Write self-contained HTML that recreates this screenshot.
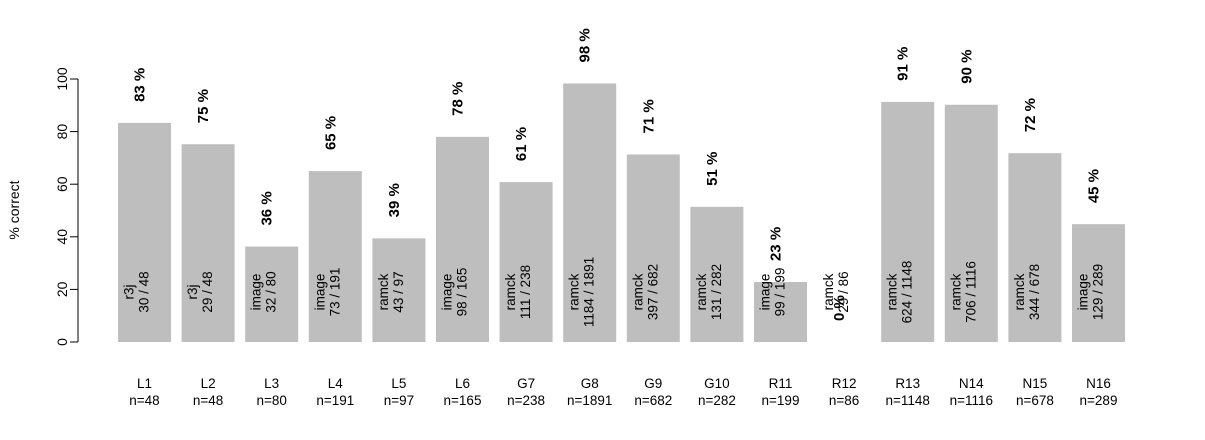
<!DOCTYPE html>
<html><head><meta charset="utf-8"><style>
html,body{margin:0;padding:0;background:#fff;}
svg{display:block;font-family:"Liberation Sans",Arial,sans-serif;}
</style></head><body>
<svg id="chart" width="1205" height="440" viewBox="0 0 1205 440" xmlns="http://www.w3.org/2000/svg">
<g id="yaxis"></g>
<text transform="translate(19,210) rotate(-90)" text-anchor="middle" font-size="14">% correct</text>
<g id="bars"></g>
</svg>
<script>
const categories = ["L1","L2","L3","L4","L5","L6","G7","G8","G9","G10","R11","R12","R13","N14","N15","N16"];
const counts = [48,48,80,191,97,165,238,1891,682,282,199,86,1148,1116,678,289];
const percents = [83.3,75.2,36.3,65,39.4,78,60.8,98.3,71.3,51.4,22.8,0,91.3,90.2,71.8,44.8];
const methods = ["r3j","r3j","image","image","ramck","image","ramck","ramck","ramck","ramck","image","ramck","ramck","ramck","ramck","image"];
const fractions = ["30 / 48","29 / 48","32 / 80","73 / 191","43 / 97","98 / 165","111 / 238","1184 / 1891","397 / 682","131 / 282","99 / 199","29 / 86","624 / 1148","706 / 1116","344 / 678","129 / 289"];
const yTicks = [0,20,40,60,80,100];

const NS="http://www.w3.org/2000/svg";
const y0=342, yScale=(342-79)/100;
const y=v=>y0-v*yScale;
const x=i=>118+i*63.6;
const bw=53;
function mk(tag,attrs,parent,txt){const e=document.createElementNS(NS,tag);for(const k in attrs)e.setAttribute(k,attrs[k]);if(txt!==undefined)e.textContent=txt;parent.appendChild(e);return e;}

const ya=document.getElementById('yaxis');
let l=mk('line',{x1:78,x2:78,y1:y(0),y2:y(100),stroke:'#000','stroke-width':1},ya);


yTicks.forEach(t=>{
  let tk=mk('line',{x1:70,x2:78,y1:y(t),y2:y(t),stroke:'#000'},ya);
  
  
  let tl=mk('text',{transform:`translate(67,${y(t)}) rotate(-90)`,'text-anchor':'middle','font-size':14},ya,String(t));
  
  
});

const bg=document.getElementById('bars');
categories.forEach((c,i)=>{
  const left=x(i), cx=left+bw/2, top=y(percents[i]);
  const r=mk('rect',{x:left,y:top,width:bw,height:y0-top,fill:'#bebebe'},bg);
  
  
  const pt=mk('text',{transform:`translate(${cx},${top-21}) rotate(-90)`,'font-size':15,'font-weight':'bold'},bg,Math.round(percents[i])+' %');
  
  
  const m=mk('text',{transform:`translate(${cx-11},292) rotate(-90)`,'text-anchor':'middle','font-size':13.5},bg,methods[i]);
  
  
  const f=mk('text',{transform:`translate(${cx+4},292) rotate(-90)`,'text-anchor':'middle','font-size':13.5},bg,fractions[i]);
  
  
  const cl=mk('text',{x:cx,y:388,'text-anchor':'middle','font-size':13.5},bg,c);
  
  
  const nl=mk('text',{x:cx,y:405,'text-anchor':'middle','font-size':13.5},bg,'n='+counts[i]);
  
  
});
</script>
</body></html>
